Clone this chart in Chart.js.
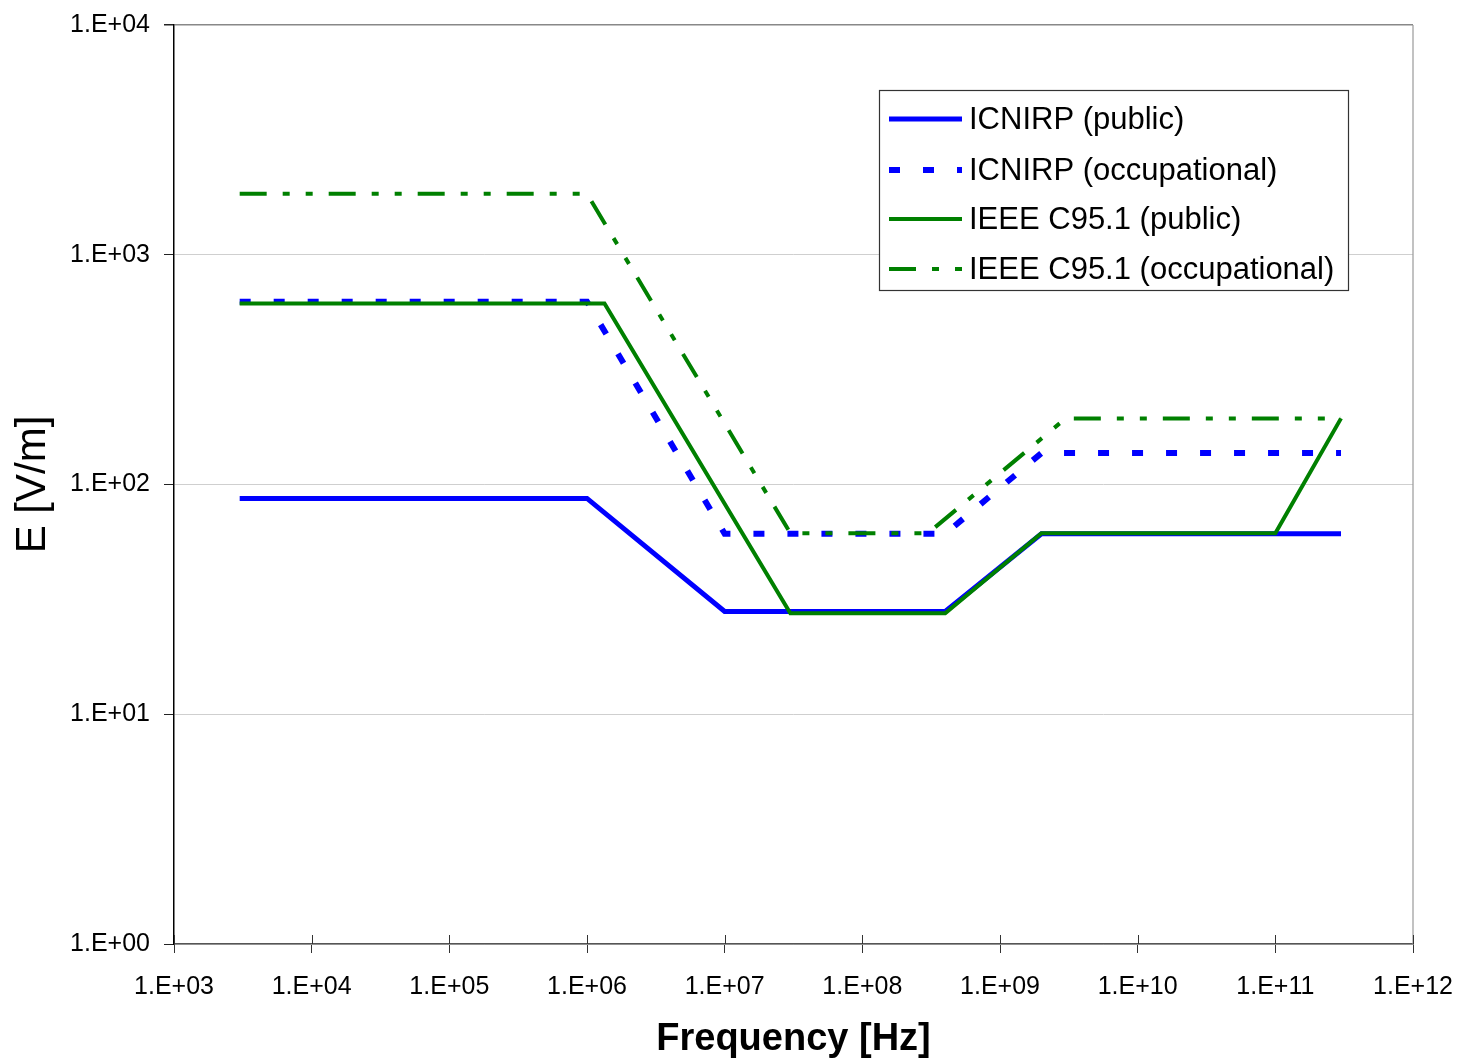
<!DOCTYPE html>
<html>
<head>
<meta charset="utf-8">
<title>E-field reference levels</title>
<script src="https://cdn.jsdelivr.net/npm/chart.js@4.4.1/dist/chart.umd.min.js"></script>
<style>
  html, body { margin: 0; padding: 0; background: #fff; }
  #wrap { width: 1460px; height: 1060px; }
</style>
</head>
<body>
<div id="wrap"><canvas id="limitsChart" width="1460" height="1060"></canvas></div>
<script>
// ── Data ──────────────────────────────────────────────────────────
const X_TICKS = [1e3, 1e4, 1e5, 1e6, 1e7, 1e8, 1e9, 1e10, 1e11, 1e12];
const Y_TICKS = [1e0, 1e1, 1e2, 1e3, 1e4];

const ICNIRP_PUB_F = [3e3, 1e6, 1e7, 4e8, 2e9, 3e11];
const ICNIRP_PUB_E = [87, 87, 28, 28, 61, 61];

const ICNIRP_OCC_F = [3e3, 1e6, 1e7, 4e8, 2e9, 3e11];
const ICNIRP_OCC_E = [625, 625, 61, 61, 137, 137];

const IEEE_PUB_F = [3e3, 1.34e6, 3e7, 4e8, 2e9, 1e11, 3e11];
const IEEE_PUB_E = [614, 614, 27.5, 27.5, 61.4, 61.4, 194];

const IEEE_OCC_F = [3e3, 1e6, 3e7, 3e8, 3e9, 3e11];
const IEEE_OCC_E = [1842, 1842, 61.4, 61.4, 194, 194];

const SERIES_LABELS = ['ICNIRP (public)', 'ICNIRP (occupational)', 'IEEE C95.1 (public)', 'IEEE C95.1 (occupational)'];

const FONT = "'Liberation Sans', Arial, sans-serif";
const BLUE = '#0000ff', GREEN = '#008000';

const pts = (fs, es) => fs.map((f, i) => ({ x: f, y: es[i] }));
const expLabel = v => '1.E+' + String(Math.round(Math.log10(v))).padStart(2, '0');

// ── Legend drawn inside the plot (like the original) ─────────────
const insideLegend = {
    id: 'insideLegend',
    afterDraw(chart) {
        const ctx = chart.ctx;
        const box = { x: 879, y: 90, w: 469, h: 200 };
        ctx.save();
        ctx.fillStyle = '#fff';
        ctx.fillRect(box.x, box.y, box.w, box.h);
        ctx.strokeStyle = '#333';
        ctx.lineWidth = 1.2;
        ctx.setLineDash([]);
        ctx.strokeRect(box.x + 0.5, box.y + 0.5, box.w, box.h);

        ctx.font = '31px ' + FONT;
        ctx.fillStyle = '#000';
        ctx.textBaseline = 'middle';
        ctx.textAlign = 'left';
        const rows = [119, 170, 219, 269];
        chart.data.datasets.forEach((ds, i) => {
            const y = rows[i];
            ctx.beginPath();
            ctx.strokeStyle = ds.borderColor;
            ctx.lineWidth = ds.borderWidth;
            ctx.lineCap = 'butt';
            ctx.setLineDash(ds.borderDash || []);
            ctx.moveTo(889, y);
            ctx.lineTo(962, y);
            ctx.stroke();
            ctx.setLineDash([]);
            ctx.fillText(ds.label, 969, y + 1);
        });
        ctx.restore();
    }
};

// ── Frame: right border + x ticks crossing the axis ──────────────
const plotFrame = {
    id: 'plotFrame',
    beforeDatasetsDraw(chart) {
        const { ctx, chartArea: a, scales } = chart;
        ctx.save();
        ctx.strokeStyle = '#999';
        ctx.lineWidth = 1.2;
        ctx.beginPath();
        ctx.moveTo(a.right, a.top);
        ctx.lineTo(a.right, a.bottom);
        ctx.stroke();
        ctx.strokeStyle = '#333';
        ctx.lineWidth = 1;
        X_TICKS.forEach(v => {
            const x = Math.round(scales.x.getPixelForValue(v)) + 0.5;
            ctx.beginPath();
            ctx.moveTo(x, a.bottom - 9);
            ctx.lineTo(x, a.bottom);
            ctx.stroke();
        });
        ctx.restore();
    }
};

new Chart(document.getElementById('limitsChart').getContext('2d'), {
    type: 'line',
    data: {
        datasets: [
            {
                label: SERIES_LABELS[0], data: pts(ICNIRP_PUB_F, ICNIRP_PUB_E),
                borderColor: BLUE, borderWidth: 5, order: 4
            },
            {
                label: SERIES_LABELS[1], data: pts(ICNIRP_OCC_F, ICNIRP_OCC_E),
                borderColor: BLUE, borderWidth: 6, borderDash: [11, 23], order: 3
            },
            {
                label: SERIES_LABELS[2], data: pts(IEEE_PUB_F, IEEE_PUB_E),
                borderColor: GREEN, borderWidth: 4, order: 2
            },
            {
                label: SERIES_LABELS[3], data: pts(IEEE_OCC_F, IEEE_OCC_E),
                borderColor: GREEN, borderWidth: 4, borderDash: [27, 16, 7, 16, 7, 16], order: 1
            }
        ]
    },
    options: {
        responsive: false,
        animation: false,
        events: [],
        elements: {
            point: { radius: 0 },
            line: { tension: 0, fill: false, borderCapStyle: 'butt', borderJoinStyle: 'miter' }
        },
        layout: { padding: { top: 25, right: 47, left: 0, bottom: 0 } },
        plugins: { legend: { display: false }, tooltip: { enabled: false } },
        scales: {
            x: {
                type: 'logarithmic', min: 1e3, max: 1e12,
                afterBuildTicks: s => { s.ticks = X_TICKS.map(v => ({ value: v })); },
                afterFit: s => { s.height = 116; s.paddingLeft = 0; s.paddingRight = 0; },
                ticks: {
                    callback: v => expLabel(v), autoSkip: false, maxRotation: 0,
                    color: '#000', padding: 19, font: { family: FONT, size: 25 }
                },
                grid: { drawOnChartArea: false, tickLength: 9, color: '#333', tickColor: '#333' },
                border: { color: '#555', width: 1.5 },
                title: {
                    display: true, text: 'Frequency [Hz]', color: '#000', padding: 0,
                    font: { family: FONT, size: 38, weight: 'bold', lineHeight: 1.1 }
                }
            },
            y: {
                type: 'logarithmic', min: 1, max: 1e4,
                afterBuildTicks: s => { s.ticks = Y_TICKS.map(v => ({ value: v })); },
                afterFit: s => { s.width = 174; s.paddingTop = 0; s.paddingBottom = 0; },
                ticks: {
                    callback: v => expLabel(v), autoSkip: false,
                    color: '#000', padding: 14, font: { family: FONT, size: 25 }
                },
                grid: {
                    tickLength: 10, tickColor: '#222',
                    color: c => (c.tick && c.tick.value === 1e4) ? '#888' : '#cfcfcf',
                    lineWidth: c => (c.tick && c.tick.value === 1e4) ? 1.5 : 1
                },
                border: { color: '#000', width: 1.5 },
                title: {
                    display: true, text: 'E [V/m]', color: '#000', padding: { top: 12, bottom: 0 },
                    font: { family: FONT, size: 42, lineHeight: 1.0 }
                }
            }
        }
    },
    plugins: [plotFrame, insideLegend]
});
</script>
</body>
</html>
